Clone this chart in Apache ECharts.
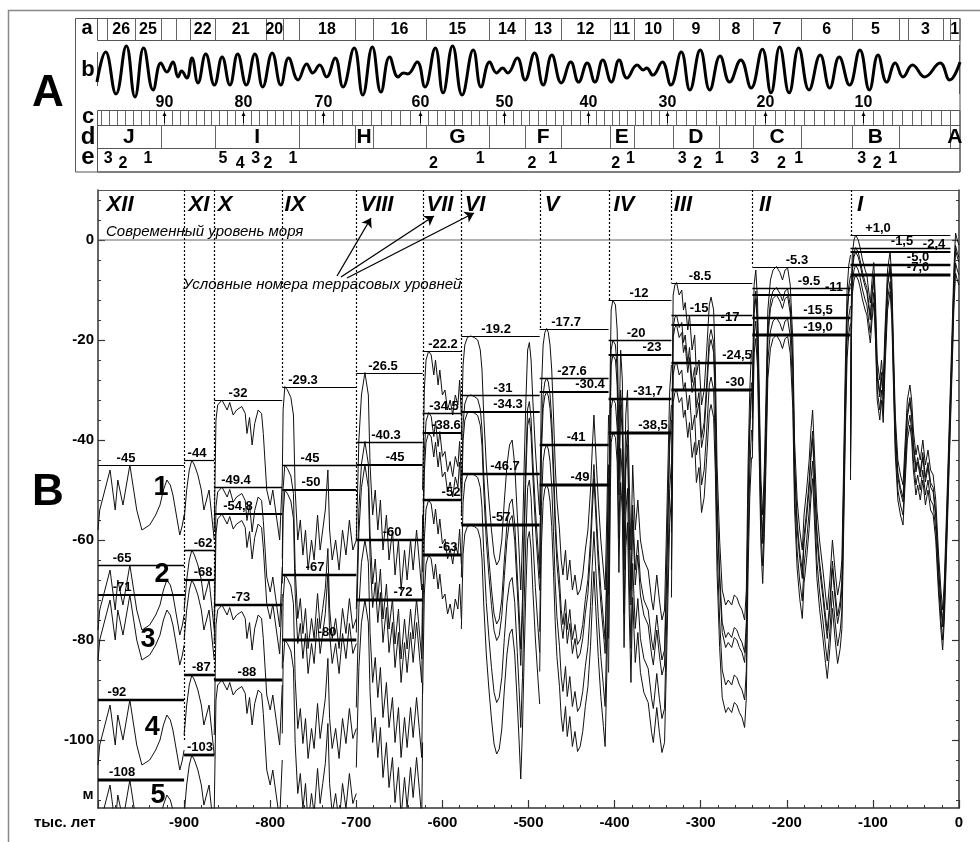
<!DOCTYPE html>
<html>
<head>
<meta charset="utf-8">
<script src="https://cdn.jsdelivr.net/npm/echarts@6.0.0/dist/echarts.min.js"></script>
<style>
html,body{margin:0;padding:0;background:#fff;}
#chartBox{width:980px;height:842px;}
</style>
</head>
<body>
<div id="chartBox"></div>
<script>
// ===================== DATA =====================
const SEGMENT_NAMES = ['XII','XI','X','IX','VIII','VII','VI','V','IV','III','II','I'];
const SEGMENT_BOUNDS = [-1000,-900,-865,-786,-700,-623,-578,-487,-407,-334,-240,-126,0];
const LEVELS = [
  [-45,-65,-71,-92,-108],
  [-44,-62,-68,-87,-103],
  [-32,-49.4,-54.8,-73,-88],
  [-29.3,-45,-50,-67,-80],
  [-26.5,-40.3,-45,-60,-72],
  [-22.2,-34.5,-38.6,-52,-63],
  [-19.2,-31,-34.3,-46.7,-57],
  [-17.7,-27.6,-30.4,-41,-49],
  [-12,-20,-23,-31.7,-38.5],
  [-8.5,-15,-17,-24.5,-30],
  [-5.3,-9.5,-11,-15.5,-19.0],
  [1.0,-1.5,-2.4,-5.0,-7.0]
];
const LEVEL_TEXT = [
  ['-45','-65','-71','-92','-108'],
  ['-44','-62','-68','-87','-103'],
  ['-32','-49.4','-54,8','-73','-88'],
  ['-29.3','-45','-50','-67','-80'],
  ['-26.5','-40.3','-45','-60','-72'],
  ['-22.2','-34.5','-38.6','-52','-63'],
  ['-19.2','-31','-34.3','-46.7','-57'],
  ['-17.7','-27.6','-30.4','-41','-49'],
  ['-12','-20','-23','-31,7','-38,5'],
  ['-8.5','-15','-17','-24,5','-30'],
  ['-5.3','-9.5','-11','-15,5','-19,0'],
  ['+1,0','-1,5','-2,4','-5,0','-7,0']
];
const SEG_XII = [[-1000,-58],[-998,-54],[-986,-46],[-980,-54],[-977,-48],[-971,-53],[-963,-45],[-955,-54],[-949,-58],[-940,-57],[-933,-55],[-928,-53],[-924,-50],[-920,-48],[-916,-49],[-913,-51],[-909,-55],[-905,-59],[-902,-57],[-900,-55]];
const SEG_XI = [[-900,-56],[-897,-50],[-894,-46],[-891,-44],[-888,-45],[-884,-47],[-880,-50],[-877,-54],[-874,-52],[-871,-50],[-868,-55],[-865,-60]];
const SEG_X = [[-865,-58],[-863,-36],[-861,-33],[-856,-32],[-850,-34],[-847,-32.5],[-843,-35],[-839,-34],[-833,-33.3],[-829,-34.7],[-827,-38.7],[-824,-35.5],[-821,-41],[-818,-36.7],[-814,-34],[-810,-34.7],[-808,-38.7],[-804,-50],[-800,-53],[-797,-50],[-793,-55],[-789,-60],[-786,-48]];
const SEG_IX = [[-786,-48],[-785,-34],[-783,-29.3],[-780,-30],[-776,-31.5],[-773,-35],[-771,-50],[-768,-60],[-765,-56],[-762,-63],[-759,-58],[-756,-66],[-752,-60],[-749,-64],[-745,-55],[-742,-62],[-739,-58],[-736,-54],[-733,-46],[-731,-58],[-728,-64],[-724,-60],[-720,-66],[-716,-58],[-712,-63],[-708,-56],[-704,-62],[-700,-60]];
const SEG_VIII = [[-700,-60],[-697,-40],[-694,-31],[-690,-26.5],[-686,-31],[-684,-45],[-681,-55],[-678,-50],[-675,-58],[-672,-52],[-669,-62],[-665,-55],[-662,-64],[-658,-58],[-655,-67],[-651,-60],[-648,-70],[-644,-62],[-641,-68],[-637,-60],[-634,-66],[-630,-58],[-627,-64],[-624,-70],[-623,-55]];
const SEG_VII = [[-623,-50],[-621,-30],[-619,-24],[-616,-22.2],[-613,-23],[-610,-27],[-608,-24],[-605,-29],[-603,-26],[-600,-31],[-597,-30],[-594,-34],[-591,-32],[-588,-35],[-585,-31],[-582,-33],[-580,-28],[-578,-35]];
const SEG_VI = [[-578,-40],[-576,-25],[-574,-21],[-571,-19.5],[-567,-19.2],[-563,-19.5],[-559,-20],[-556,-22],[-554,-26],[-552,-35],[-549,-45],[-546,-52],[-543,-58],[-540,-63],[-537,-65],[-534,-64],[-531,-60],[-528,-52],[-525,-45],[-522,-41],[-519,-40],[-516,-45],[-513,-55],[-511,-62],[-509,-70],[-507,-60],[-505,-45],[-503,-32],[-501,-22],[-499,-20.5],[-497,-24],[-495,-32],[-492,-42],[-489,-50],[-487,-55]];
const SEG_V = [[-487,-55],[-485,-30],[-483,-21],[-481,-18.5],[-479,-17.7],[-477,-18.5],[-475,-21],[-473,-26],[-471,-35],[-469,-45],[-467,-52],[-464,-58],[-462,-64],[-460,-67],[-457,-62],[-455,-68],[-452,-64],[-449,-70],[-446,-67],[-443,-71],[-440,-70],[-437,-67],[-434,-62],[-431,-58],[-428,-50],[-426,-42],[-424,-35],[-422,-42],[-419,-52],[-416,-60],[-413,-66],[-411,-70],[-409,-55],[-407,-35]];
const SEG_IV = [[-407,-60],[-405,-25],[-404,-14],[-402,-12],[-399,-13],[-397,-18],[-395,-40],[-393,-22],[-391,-28],[-389,-55],[-387,-35],[-385,-30],[-383,-48],[-381,-62],[-379,-45],[-376,-58],[-373,-52],[-370,-60],[-366,-64],[-361,-66],[-357,-72],[-355,-74],[-351,-67],[-348,-72],[-345,-76],[-342,-74],[-340,-60],[-338,-45],[-336,-30],[-334,-25]];
const SEG_III = [[-334,-50],[-332,-11],[-330,-9],[-328,-8.5],[-325,-11],[-322,-10],[-320,-14],[-318,-12.5],[-315,-18],[-313,-15],[-310,-22],[-307,-19],[-305,-27],[-302,-24],[-299,-33],[-296,-30],[-293,-22],[-290,-13],[-288,-11.4],[-285,-14],[-283,-25],[-281,-45],[-278,-60],[-275,-70],[-271,-73],[-268,-72],[-264,-73],[-261,-71],[-258,-71.5],[-255,-73],[-252,-74],[-249,-76],[-247,-70],[-245,-45],[-243,-30],[-241,-22]];
const SEG_II = [[-240,-30],[-238,-9],[-236,-6],[-234,-12],[-232,-30],[-230,-48],[-228,-55],[-226,-45],[-224,-30],[-222,-14],[-219,-8],[-216,-6],[-212,-5.3],[-208,-6.5],[-205,-8],[-202,-6],[-199,-5.6],[-196,-9],[-193,-20],[-191,-40],[-188,-52],[-185,-58],[-182,-62],[-180,-55],[-177,-50],[-174,-44],[-172,-38],[-170,-34],[-168,-42],[-165,-54],[-162,-60],[-158,-66],[-155,-71],[-153,-74],[-150,-68],[-147,-60],[-144,-66],[-141,-71],[-138,-68],[-136,-64],[-134,-45],[-132,-25],[-130,-10],[-128,-5],[-126,-3]];
const SEG_I = [[-126,-40],[-125,-12],[-124,-3],[-122,0],[-120,1],[-117,0],[-115,-1.4],[-112,-4],[-109,-6],[-107,-7],[-105,-10],[-103,-12.6],[-101,-8],[-99,-4.5],[-97,-12],[-95,-24],[-92,-28],[-90,-24],[-88,-28.5],[-86,-18],[-83,-6],[-80,-2.3],[-78,-8],[-76,-22],[-74,-35],[-71,-44],[-68,-47],[-65,-49],[-63,-42],[-60,-32],[-57,-29],[-55,-32],[-53,-38],[-50,-43],[-48,-41],[-45,-44],[-42,-40],[-39,-45],[-36,-42],[-33,-46],[-30,-47],[-27,-52],[-24,-62],[-21,-70],[-19,-74],[-17,-68],[-14,-52],[-11,-35],[-8,-18],[-6,-6],[-4,1.4],[-2,0],[0,-1]];
const DIVIDER_BOTTOM = [-100,-88,-29.3,-60,-63,-57,-17.7,-12,-8.5,-5.3,1.0];
const CURVE_NAMES = ['1','2','3','4','5'];

const ROW_A_BOUNDS = [-1000,-988,-956,-926,-908,-892,-863,-804,-785,-766,-701,-680,-619,-546,-504,-462,-406,-378,-333,-279,-240,-184,-125,-71,-60,-20,-12,0];
const ROW_A_TEXT = ['','26','25','','','22','21','20','','18','','16','15','14','13','12','11','10','9','8','7','6','5','','3','','1'];
const WAVE = [[-1000,-0.41],[-990,0.70],[-978,-0.85],[-966,0.93],[-956,-0.96],[-946,0.85],[-935,-0.70],[-926,0.30],[-919,-0.04],[-912,0.33],[-906,-0.22],[-902,0.00],[-896,-0.26],[-890,0.48],[-883,-0.44],[-874,0.63],[-864,-0.52],[-855,0.52],[-846,-0.52],[-837,0.63],[-827,-0.52],[-817,0.63],[-808,-0.59],[-797,0.67],[-787,-0.52],[-778,0.48],[-767,-0.33],[-757,0.26],[-750,-0.07],[-742,0.22],[-734,-0.22],[-724,0.48],[-715,-0.59],[-702,0.85],[-692,-0.89],[-681,0.89],[-671,-0.78],[-661,0.52],[-651,-0.22],[-645,-0.07],[-640,-0.11],[-629,0.33],[-620,-0.59],[-608,0.85],[-599,-0.81],[-588,0.93],[-577,-0.89],[-564,0.78],[-555,-0.59],[-545,0.33],[-537,-0.07],[-530,0.11],[-524,-0.07],[-513,0.48],[-504,-0.33],[-493,0.67],[-483,-0.52],[-473,0.59],[-462,-0.44],[-451,0.33],[-442,-0.41],[-432,0.30],[-423,-0.41],[-414,0.41],[-404,-0.41],[-395,0.41],[-386,-0.26],[-374,0.22],[-367,0.04],[-363,0.11],[-356,-0.15],[-345,0.33],[-335,-0.52],[-323,0.70],[-313,-0.70],[-301,0.78],[-290,-0.70],[-278,0.56],[-267,-0.41],[-254,0.41],[-242,-0.63],[-229,0.81],[-219,-0.81],[-209,0.89],[-198,-0.81],[-187,0.85],[-175,-0.70],[-162,0.59],[-151,-0.63],[-140,0.52],[-128,-0.52],[-116,0.78],[-105,-0.70],[-95,0.59],[-85,-0.41],[-75,0.30],[-66,-0.22],[-55,0.22],[-41,-0.22],[-23,0.30],[-12,-0.33],[0,0.33]];
const ROW_C_LABELS = [90,80,70,60,50,40,30,20,10];
const ROW_C_X = [-922,-831,-738,-626,-528,-431,-340,-226,-112];
const ROW_D_BOUNDS = [-1000,-926,-863,-766,-701,-680,-619,-546,-504,-462,-406,-378,-333,-279,-240,-184,-125,-71,-12,0];
const ROW_D_TEXT = ['J','','I','','H','','G','','F','','E','','D','','C','','B','','A'];
const ROW_E_X = [-987,-970,-941,-854,-834,-816,-802,-773,-610,-556,-496,-472,-399,-382,-322,-304,-279,-238,-207,-187,-114,-96,-78];
const ROW_E_TEXT = ['3','2','1','5','4','3','2','1','2','1','2','1','2','1','3','2','1','3','2','1','3','2','1'];

// ===================== LAYOUT =====================
const FF = '"Liberation Sans", Arial, sans-serif';
const LAST_LINE_END = -10;
const LEVEL_WIDTH = [1.2, 1.6, 2.2, 2.6, 2.8];
const LEVEL_LABEL_X = [
  [-967.5,-972,-972,-978,-972],
  [-885,-878,-878,-880,-881.5],
  [-837.4,-839.7,-837.4,-834,-827],
  [-761.9,-753.8,-752.6,-748,-734],
  [-669,-665.5,-655,-658.5,-645.8],
  [-599.3,-598.1,-595.8,-590,-593.5],
  [-537.7,-529.6,-523.8,-527.3,-531.9],
  [-456.4,-449.5,-428.6,-444.8,-440.2],
  [-371.7,-375.1,-356.6,-361.2,-355.4],
  [-300.8,-301.9,-266,-257.8,-260.2],
  [-188.2,-174.2,-145.2,-163.8,-163.8],
  [-94.1,-66.2,-29.0,-47.6,-47.6]
];
const ROMAN_X = [-974.4,-882.7,-852.5,-771.2,-676.0,-602.8,-562.1,-472.7,-389.1,-320.6,-225.3,-115.0];
const ROMAN_Y = 7;
const CURVE_LABEL_POS = [[-926.8,-49.6],[-925.7,-67],[-941.9,-80],[-937,-97.6],[-930.3,-111.2]];
const ARROWS = [[[-722.4,-7.2],[-682.9,4.4]],[[-717.8,-7.4],[-609.8,4.8]],[[-710.8,-7.6],[-563.3,5.4]]];
const E_LOW = {'2':true,'4':true};

const cTicks = [];
for (let i = 0; i < ROW_C_X.length - 1; i++) {
  const a = ROW_C_X[i], b = ROW_C_X[i + 1];
  for (let j = 0; j < 10; j++) cTicks.push(a + (b - a) * j / 10);
}
{
  const st = (ROW_C_X[1] - ROW_C_X[0]) / 10;
  for (let t = ROW_C_X[0] - st; t > -1000; t -= st) cTicks.push(t);
  const last = ROW_C_X[ROW_C_X.length - 1];
  for (let j = 0; j < 10; j++) cTicks.push(last + (0 - last) * j / 10);
}
const Y_MAJOR = [-100,-80,-60,-40,-20,0];
const Y_MINOR = [];
for (let v = -112; v <= 8; v += 4) Y_MINOR.push(v);

// ===================== SERIES =====================
const SEG_CURVES = [SEG_XII,SEG_XI,SEG_X,SEG_IX,SEG_VIII,SEG_VII,SEG_VI,SEG_V,SEG_IV,SEG_III,SEG_II,SEG_I];
const curveSeries = [0,1,2,3,4].map(k => {
  const data = [];
  SEG_CURVES.forEach((seg, s) => {
    const off = LEVELS[s][k] - LEVELS[s][0];
    seg.forEach(p => data.push([p[0], Math.round((p[1] + off) * 100) / 100]));
    data.push([seg[seg.length - 1][0], '-']);
  });
  return {
    type: 'line', xAxisIndex: 2, yAxisIndex: 2, data: data, symbol: 'none',
    connectNulls: false, silent: true, z: 2,
    lineStyle: { color: '#111', width: 1 }
  };
});

const levelData = [];
LEVELS.forEach((lv, s) => lv.forEach((v, k) => {
  const x0 = SEGMENT_BOUNDS[s];
  const x1 = (s === LEVELS.length - 1) ? LAST_LINE_END : SEGMENT_BOUNDS[s + 1];
  levelData.push([x0, v, x1, s, k]);
}));
const dividerData = SEGMENT_BOUNDS.slice(1, 12).map((x, i) => [x, DIVIDER_BOTTOM[i]]);

function mkText(text, x, y, font, align, va) {
  return { type: 'text', style: { text: text, x: x, y: y, font: font, fill: '#000',
    align: align || 'center', verticalAlign: va || 'middle',
    textAlign: align || 'center', textVerticalAlign: va || 'middle' } };
}
function vline(x, y1, y2, color, w) {
  const xx = Math.round(x) + 0.5;
  return { type: 'line', shape: { x1: xx, y1: y1, x2: xx, y2: y2 }, style: { stroke: color, lineWidth: w || 1 } };
}

const series = [];
series.push({
  type: 'custom', xAxisIndex: 0, yAxisIndex: 0, silent: true,
  data: ROW_A_TEXT.map((t, i) => [ROW_A_BOUNDS[i], 0.5, ROW_A_BOUNDS[i + 1], i]),
  renderItem: function (params, api) {
    const cs = params.coordSys;
    const x0 = api.coord([api.value(0), 0.5])[0];
    const x1 = api.coord([api.value(2), 0.5])[0];
    const idx = api.value(3);
    const ch = [];
    if (idx > 0) ch.push(vline(x0, cs.y, cs.y + 22, '#666', 1));
    if (ROW_A_TEXT[idx]) ch.push(mkText(ROW_A_TEXT[idx], (x0 + x1) / 2, cs.y + 12, 'bold 16px ' + FF));
    return { type: 'group', children: ch };
  }
});
series.push({
  type: 'line', xAxisIndex: 1, yAxisIndex: 1, data: WAVE, symbol: 'none', smooth: 0.45,
  silent: true, lineStyle: { color: '#000', width: 3 }
});
series.push({
  type: 'custom', xAxisIndex: 0, yAxisIndex: 0, silent: true,
  data: cTicks.map(t => [t, 0.5]),
  renderItem: function (params, api) {
    const cs = params.coordSys;
    const x = api.coord([api.value(0), 0.5])[0];
    return vline(x, cs.y + 92, cs.y + 107, '#666', 1);
  }
});
series.push({
  type: 'custom', xAxisIndex: 0, yAxisIndex: 0, silent: true,
  data: ROW_C_X.map((x, i) => [x, 0.5, i]),
  renderItem: function (params, api) {
    const cs = params.coordSys;
    const x = Math.round(api.coord([api.value(0), 0.5])[0]) + 0.5;
    const i = api.value(2);
    return { type: 'group', children: [
      { type: 'line', shape: { x1: x, y1: cs.y + 105, x2: x, y2: cs.y + 96 }, style: { stroke: '#000', lineWidth: 1 } },
      { type: 'polygon', shape: { points: [[x - 2, cs.y + 98], [x + 2, cs.y + 98], [x, cs.y + 94]] }, style: { fill: '#000' } },
      mkText(String(ROW_C_LABELS[i]), x, cs.y + 85, 'bold 16px ' + FF)
    ] };
  }
});
series.push({
  type: 'custom', xAxisIndex: 0, yAxisIndex: 0, silent: true,
  data: ROW_D_TEXT.map((t, i) => [ROW_D_BOUNDS[i], 0.5, ROW_D_BOUNDS[i + 1], i]),
  renderItem: function (params, api) {
    const cs = params.coordSys;
    const x0 = api.coord([api.value(0), 0.5])[0];
    const x1 = api.coord([api.value(2), 0.5])[0];
    const idx = api.value(3);
    const ch = [];
    if (idx > 0) ch.push(vline(x0, cs.y + 107, cs.y + 130, '#666', 1));
    if (ROW_D_TEXT[idx]) ch.push(mkText(ROW_D_TEXT[idx], (x0 + x1) / 2, cs.y + 119, 'bold 21px ' + FF));
    return { type: 'group', children: ch };
  }
});
series.push({
  type: 'custom', xAxisIndex: 0, yAxisIndex: 0, silent: true,
  data: ROW_E_X.map((x, i) => [x, 0.5, i]),
  renderItem: function (params, api) {
    const cs = params.coordSys;
    const x = api.coord([api.value(0), 0.5])[0];
    const t = ROW_E_TEXT[api.value(2)];
    return mkText(t, x, cs.y + (E_LOW[t] ? 146 : 141), 'bold 16px ' + FF);
  }
});
series.push({
  type: 'line', xAxisIndex: 2, yAxisIndex: 2, data: [[-1000, 0], [0, 0]], symbol: 'none', silent: true, z: 1,
  lineStyle: { color: '#666', width: 1 },
  markLine: {
    silent: true, symbol: ['none', 'arrow'], symbolSize: 9, animation: false,
    label: { show: false }, lineStyle: { type: 'solid', color: '#000', width: 1.3 },
    data: ARROWS.map(a => [{ coord: a[0] }, { coord: a[1] }])
  }
});
curveSeries.forEach(s => series.push(s));
series.push({
  type: 'custom', xAxisIndex: 2, yAxisIndex: 2, silent: true, z: 3,
  data: dividerData,
  renderItem: function (params, api) {
    const p0 = api.coord([api.value(0), 10]);
    const p1 = api.coord([api.value(0), api.value(1)]);
    const xx = Math.round(p0[0]) + 0.5;
    return { type: 'line', shape: { x1: xx, y1: p0[1], x2: xx, y2: p1[1] },
      style: { stroke: '#000', lineWidth: 1.2, lineDash: [2, 2] } };
  }
});
series.push({
  type: 'custom', xAxisIndex: 2, yAxisIndex: 2, silent: true, z: 4,
  data: levelData,
  renderItem: function (params, api) {
    const s = api.value(3), k = api.value(4);
    const lv = api.value(1);
    const p0 = api.coord([api.value(0), lv]);
    const p1 = api.coord([api.value(2), lv]);
    const lx = api.coord([LEVEL_LABEL_X[s][k], lv])[0];
    const y = Math.round(p0[1]) + (LEVEL_WIDTH[k] > 2 ? 0 : 0.5);
    return { type: 'group', children: [
      { type: 'line', shape: { x1: p0[0], y1: y, x2: p1[0], y2: y }, style: { stroke: '#000', lineWidth: LEVEL_WIDTH[k] } },
      mkText(LEVEL_TEXT[s][k], lx, y - 1, 'bold 13px ' + FF, 'center', 'bottom')
    ] };
  }
});
// roman numerals of terrace segments
series.push({
  type: 'custom', xAxisIndex: 2, yAxisIndex: 2, silent: true, z: 6,
  data: ROMAN_X.map((x, i) => [x, ROMAN_Y, i]),
  renderItem: function (params, api) {
    const p = api.coord([api.value(0), api.value(1)]);
    return mkText(SEGMENT_NAMES[api.value(2)], p[0], p[1], 'italic bold 22px ' + FF);
  }
});
// curve numbers
series.push({
  type: 'custom', xAxisIndex: 2, yAxisIndex: 2, silent: true, z: 6,
  data: CURVE_LABEL_POS.map((p, i) => [p[0], p[1], i]),
  renderItem: function (params, api) {
    const p = api.coord([api.value(0), api.value(1)]);
    return mkText(CURVE_NAMES[api.value(2)], p[0], p[1], 'bold 27px ' + FF);
  }
});

// ===================== OPTION =====================
const hidX = (g) => ({ gridIndex: g, type: 'value', min: -1000, max: 0, show: false });
const txt = (t, x, y, font, align) => ({ type: 'text', silent: true, style: { text: t, x: x, y: y, font: font, fill: '#000',
  align: align || 'center', verticalAlign: 'middle', textAlign: align || 'center', textVerticalAlign: 'middle' } });
const option = {
  animation: false,
  backgroundColor: '#fff',
  grid: [
    { left: 97, top: 18, width: 863, height: 154 },
    { left: 97, top: 44, width: 863, height: 54 },
    { left: 98, top: 190, width: 861, height: 618 }
  ],
  xAxis: [
    hidX(0), hidX(1),
    { gridIndex: 2, type: 'value', min: -1000, max: 0, interval: 100, position: 'bottom',
      axisLine: { show: true, onZero: false, lineStyle: { color: '#333', width: 1.5 } },
      axisTick: { show: true, inside: true, length: 8, lineStyle: { color: '#333', width: 1.2 } },
      minorTick: { show: true, splitNumber: 5, length: 3, lineStyle: { color: '#333', width: 1 } },
      axisLabel: { show: true, margin: 7, color: '#000', fontSize: 15, fontWeight: 'bold', fontFamily: FF,
        formatter: v => (v === -1000 ? '' : String(v)) },
      splitLine: { show: false } },
    { gridIndex: 2, type: 'value', min: -1000, max: 0, position: 'top',
      axisLine: { show: true, onZero: false, lineStyle: { color: '#555', width: 1 } },
      axisTick: { show: false }, axisLabel: { show: false }, splitLine: { show: false } }
  ],
  yAxis: [
    { gridIndex: 0, type: 'value', min: 0, max: 1, show: false },
    { gridIndex: 1, type: 'value', min: -1, max: 1, show: false },
    { gridIndex: 2, type: 'value', min: -113.6, max: 10, position: 'left',
      axisLine: { show: true, onZero: false, lineStyle: { color: '#333', width: 1.5 } },
      axisTick: { show: true, inside: true, length: 7, customValues: Y_MAJOR, lineStyle: { color: '#333', width: 1.2 } },
      axisLabel: { show: true, customValues: Y_MAJOR, margin: 4, color: '#000', fontSize: 15, fontWeight: 'bold', fontFamily: FF },
      splitLine: { show: false } },
    { gridIndex: 2, type: 'value', min: -113.6, max: 10, position: 'right',
      axisLine: { show: true, onZero: false, lineStyle: { color: '#333', width: 1.5 } },
      axisTick: { show: true, inside: true, length: 7, customValues: Y_MAJOR, lineStyle: { color: '#333', width: 1.2 } },
      axisLabel: { show: false }, splitLine: { show: false } },
    { gridIndex: 2, type: 'value', min: -113.6, max: 10, position: 'left',
      axisLine: { show: false, onZero: false },
      axisTick: { show: true, inside: true, length: 3, customValues: Y_MINOR, lineStyle: { color: '#333', width: 1 } },
      axisLabel: { show: false }, splitLine: { show: false } },
    { gridIndex: 2, type: 'value', min: -113.6, max: 10, position: 'right',
      axisLine: { show: false, onZero: false },
      axisTick: { show: true, inside: true, length: 3, customValues: Y_MINOR, lineStyle: { color: '#333', width: 1 } },
      axisLabel: { show: false }, splitLine: { show: false } }
  ],
  graphic: [
    { type: 'line', silent: true, shape: { x1: 8, y1: 10.5, x2: 980, y2: 10.5 }, style: { stroke: '#888', lineWidth: 1.5 } },
    { type: 'line', silent: true, shape: { x1: 8.5, y1: 10, x2: 8.5, y2: 842 }, style: { stroke: '#888', lineWidth: 1.5 } },
    { type: 'rect', silent: true, shape: { x: 75.5, y: 18.5, width: 884.5, height: 153.5 }, style: { fill: 'none', stroke: '#555', lineWidth: 1 } },
    { type: 'rect', silent: true, shape: { x: 97.5, y: 18.5, width: 862.5, height: 22 }, style: { fill: 'none', stroke: '#555', lineWidth: 1 } },
    { type: 'rect', silent: true, shape: { x: 97.5, y: 110.5, width: 862.5, height: 15 }, style: { fill: 'none', stroke: '#555', lineWidth: 1 } },
    { type: 'rect', silent: true, shape: { x: 97.5, y: 125.5, width: 862.5, height: 23 }, style: { fill: 'none', stroke: '#555', lineWidth: 1 } },
    { type: 'rect', silent: true, shape: { x: 97.5, y: 148.5, width: 862.5, height: 23.5 }, style: { fill: 'none', stroke: '#555', lineWidth: 1 } },
    { type: 'line', silent: true, shape: { x1: 97.5, y1: 52, x2: 97.5, y2: 86 }, style: { stroke: '#555', lineWidth: 1 } },
    { type: 'line', silent: true, shape: { x1: 959.5, y1: 45, x2: 959.5, y2: 94 }, style: { stroke: '#555', lineWidth: 1 } },
    txt('A', 48, 94, 'bold 44px ' + FF),
    txt('B', 48, 493, 'bold 44px ' + FF),
    txt('a', 87, 28, 'bold 20px ' + FF),
    txt('b', 88, 70, 'bold 22px ' + FF),
    txt('c', 88, 117, 'bold 22px ' + FF),
    txt('d', 88, 137, 'bold 24px ' + FF),
    txt('e', 88, 157, 'bold 24px ' + FF),
    txt('Современный уровень моря', 106, 232, 'italic 15px ' + FF, 'left'),
    txt('Условные номера террасовых уровней', 183, 285, 'italic 15px ' + FF, 'left'),
    txt('м', 88, 795, 'bold 15px ' + FF),
    txt('тыс. лет', 34, 823, 'bold 15px ' + FF, 'left')
  ],
  series: series
};
const myChart = echarts.init(document.getElementById('chartBox'));
myChart.setOption(option);
</script>
</body>
</html>
